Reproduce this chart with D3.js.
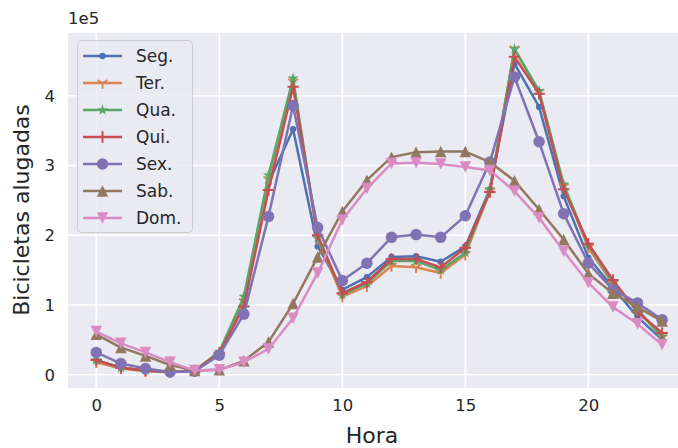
<!DOCTYPE html>
<html><head><meta charset="utf-8">
<script src="https://cdn.jsdelivr.net/npm/d3@7"></script>
<style>body{margin:0;background:#fff}svg{display:block;font-family:"DejaVu Sans",sans-serif}</style>
</head><body><svg id="c" width="678" height="448"></svg>
<script>
const hours = d3.range(0, 24);
const seriesNames = ["Seg.", "Ter.", "Qua.", "Qui.", "Sex.", "Sab.", "Dom."];
const seg = [0.20,0.10,0.06,0.04,0.06,0.30,1.00,2.75,3.52,1.84,1.22,1.40,1.69,1.70,1.62,1.84,2.66,4.46,3.84,2.56,1.68,1.25,0.83,0.50];
const ter = [0.18,0.09,0.05,0.04,0.06,0.29,1.05,2.80,4.20,1.95,1.12,1.27,1.56,1.54,1.46,1.72,2.63,4.67,4.05,2.70,1.82,1.30,0.94,0.53];
const qua = [0.21,0.10,0.06,0.04,0.06,0.33,1.12,2.86,4.25,1.97,1.15,1.31,1.63,1.63,1.50,1.75,2.66,4.67,4.07,2.73,1.86,1.33,0.92,0.55];
const qui = [0.21,0.10,0.06,0.04,0.06,0.31,0.98,2.65,4.13,2.00,1.17,1.33,1.66,1.66,1.54,1.82,2.62,4.56,4.03,2.66,1.88,1.36,0.90,0.60];
const sex = [0.32,0.16,0.09,0.04,0.05,0.28,0.87,2.27,3.86,2.11,1.35,1.60,1.97,2.01,1.97,2.28,3.05,4.27,3.34,2.31,1.60,1.22,1.03,0.79];
const sab = [0.58,0.39,0.27,0.14,0.06,0.07,0.20,0.47,1.02,1.69,2.34,2.79,3.12,3.19,3.20,3.20,3.05,2.78,2.37,1.94,1.45,1.17,0.97,0.77];
const dom = [0.62,0.45,0.32,0.18,0.06,0.07,0.18,0.37,0.81,1.46,2.22,2.67,3.03,3.04,3.02,2.98,2.93,2.63,2.25,1.77,1.32,0.97,0.73,0.43];
const seriesValues = [seg, ter, qua, qui, sex, sab, dom];
const colors = ["#4c72b0","#dd8452","#55a868","#c44e52","#8172b3","#937860","#da8bc3"];
const markers = ["point","tri_down","star","plus","circle","tri_up","tri_v"];
const xTicks = [0,5,10,15,20];
const yTicks = [0,1,2,3,4];

const svg = d3.select("#c");
const L = 68, T = 33, B = 388;
const x = d3.scaleLinear().domain([-1.15, 24.15]).range([L, L + 25.3*24.6]);
const y = d3.scaleLinear().domain([-0.19, 4.90]).range([B, T]);

svg.append("defs").append("clipPath").attr("id","clip").append("rect")
  .attr("x",L).attr("y",T).attr("width",678-L).attr("height",B-T);

svg.append("rect").attr("x",L).attr("y",T).attr("width",678-L).attr("height",B-T).attr("fill","#eaeaf2");

const grid = svg.append("g").attr("clip-path","url(#clip)");
xTicks.forEach(t => grid.append("line").attr("x1",x(t)).attr("x2",x(t)).attr("y1",T).attr("y2",B).attr("stroke","#fff").attr("stroke-width",1.7));
yTicks.forEach(t => grid.append("line").attr("x1",L).attr("x2",678).attr("y1",y(t)).attr("y2",y(t)).attr("stroke","#fff").attr("stroke-width",1.7));

const xAxis = svg.append("g").attr("transform",`translate(0,${B})`)
  .call(d3.axisBottom(x).tickValues(xTicks).tickSize(0).tickPadding(11).tickFormat(d3.format("d")));
const yAxis = svg.append("g").attr("transform",`translate(${L},0)`)
  .call(d3.axisLeft(y).tickValues(yTicks).tickSize(0).tickPadding(13).tickFormat(d3.format("d")));
[xAxis, yAxis].forEach(a => { a.select(".domain").remove(); a.selectAll("text").attr("font-size",16.5).attr("fill","#262626").attr("font-family","DejaVu Sans"); });

svg.append("text").attr("x",L).attr("y",24).attr("font-size",16.5).attr("fill","#262626").text("1e5");
svg.append("text").attr("x",372).attr("y",443).attr("text-anchor","middle").attr("font-size",22).attr("fill","#262626").text("Hora");
svg.append("text").attr("transform","translate(29,210) rotate(-90)").attr("text-anchor","middle").attr("font-size",22).attr("fill","#262626").text("Bicicletas alugadas");

const ms = 11.5;
function drawMarker(g, type, cx, cy, color, s) {
  s = s || ms;
  const h = s/2;
  if (type === "point") {
    g.append("circle").attr("cx",cx).attr("cy",cy).attr("r",h*0.55).attr("fill",color);
  } else if (type === "circle") {
    g.append("circle").attr("cx",cx).attr("cy",cy).attr("r",h).attr("fill",color);
  } else if (type === "tri_up") {
    g.append("path").attr("d",`M${cx},${cy-h}L${cx-h},${cy+h}L${cx+h},${cy+h}Z`).attr("fill",color);
  } else if (type === "tri_v") {
    g.append("path").attr("d",`M${cx},${cy+h}L${cx-h},${cy-h}L${cx+h},${cy-h}Z`).attr("fill",color);
  } else if (type === "plus") {
    g.append("path").attr("d",`M${cx-h},${cy}L${cx+h},${cy}M${cx},${cy-h}L${cx},${cy+h}`).attr("stroke",color).attr("stroke-width",2).attr("fill","none");
  } else if (type === "tri_down") {
    const a = h*0.866, b = h*0.5;
    g.append("path").attr("d",`M${cx},${cy}L${cx},${cy+h}M${cx},${cy}L${cx-a},${cy-b}M${cx},${cy}L${cx+a},${cy-b}`).attr("stroke",color).attr("stroke-width",2).attr("fill","none");
  } else if (type === "star") {
    const pts = [];
    for (let i=0;i<10;i++){ const r = i%2===0 ? h : h*0.4; const ang = -Math.PI/2 + i*Math.PI/5; pts.push([cx + r*Math.cos(ang), cy + r*Math.sin(ang)]); }
    g.append("path").attr("d","M"+pts.map(p=>p.join(",")).join("L")+"Z").attr("fill",color);
  }
}

const plot = svg.append("g").attr("clip-path","url(#clip)");
const line = d3.line().x((d,i)=>x(hours[i])).y(d=>y(d));
seriesValues.forEach((vals, si) => {
  const g = plot.append("g");
  g.append("path").datum(vals).attr("d",line).attr("fill","none").attr("stroke",colors[si]).attr("stroke-width",2.5).attr("stroke-linejoin","round");
  vals.forEach((v,i) => drawMarker(g, markers[si], x(hours[i]), y(v), colors[si]));
});

const lg = svg.append("g");
lg.append("rect").attr("x",77.5).attr("y",40.5).attr("width",115).attr("height",192).attr("rx",4)
  .attr("fill","#eaeaf2").attr("fill-opacity",0.8).attr("stroke","#cccccc").attr("stroke-width",1);
seriesNames.forEach((n,i) => {
  const cy = 56 + i*27;
  lg.append("line").attr("x1",83).attr("x2",122).attr("y1",cy).attr("y2",cy).attr("stroke",colors[i]).attr("stroke-width",2.5);
  drawMarker(lg, markers[i], 102.5, cy, colors[i]);
  lg.append("text").attr("x",136).attr("y",cy+6).attr("font-size",17).attr("fill","#262626").text(n);
});
</script></body></html>
